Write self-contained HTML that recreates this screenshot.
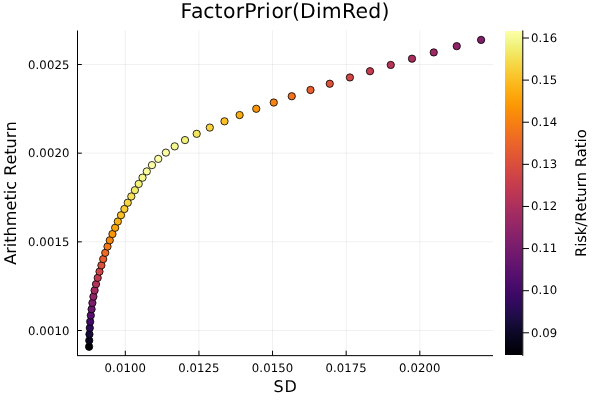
<!DOCTYPE html>
<html><head><meta charset="utf-8"><title>FactorPrior(DimRed)</title>
<style>html,body{margin:0;padding:0;background:#fff;}svg{display:block;will-change:transform;}text{font-family:'DejaVu Sans','Liberation Sans',sans-serif;fill:#000;font-kerning:none;text-rendering:geometricPrecision;}</style></head><body>
<svg width="600" height="400" viewBox="0 0 600 400">
<rect x="0" y="0" width="600" height="400" fill="#ffffff"/>
<g stroke="#000" stroke-opacity="0.1" stroke-width="0.6" fill="none">
<line x1="125.30" y1="30.50" x2="125.30" y2="355.50"/>
<line x1="198.93" y1="30.50" x2="198.93" y2="355.50"/>
<line x1="272.55" y1="30.50" x2="272.55" y2="355.50"/>
<line x1="346.18" y1="30.50" x2="346.18" y2="355.50"/>
<line x1="419.80" y1="30.50" x2="419.80" y2="355.50"/>
<line x1="77.50" y1="330.50" x2="493.00" y2="330.50"/>
<line x1="77.50" y1="241.83" x2="493.00" y2="241.83"/>
<line x1="77.50" y1="153.16" x2="493.00" y2="153.16"/>
<line x1="77.50" y1="64.49" x2="493.00" y2="64.49"/>
</g>
<g stroke="#000" stroke-width="1" fill="none">
<line x1="77.00" y1="355.65" x2="493.00" y2="355.65"/>
<line x1="77.50" y1="30.50" x2="77.50" y2="355.50"/>
<line x1="125.30" y1="355.65" x2="125.30" y2="350.70"/>
<line x1="198.93" y1="355.65" x2="198.93" y2="350.70"/>
<line x1="272.55" y1="355.65" x2="272.55" y2="350.70"/>
<line x1="346.18" y1="355.65" x2="346.18" y2="350.70"/>
<line x1="419.80" y1="355.65" x2="419.80" y2="350.70"/>
<line x1="77.50" y1="330.50" x2="81.80" y2="330.50"/>
<line x1="77.50" y1="241.83" x2="81.80" y2="241.83"/>
<line x1="77.50" y1="153.16" x2="81.80" y2="153.16"/>
<line x1="77.50" y1="64.49" x2="81.80" y2="64.49"/>
</g>
<g font-size="11.67" style="letter-spacing:0.1px">
<text x="125.30" y="371.6" text-anchor="middle">0.0100</text>
<text x="198.93" y="371.6" text-anchor="middle">0.0125</text>
<text x="272.55" y="371.6" text-anchor="middle">0.0150</text>
<text x="346.18" y="371.6" text-anchor="middle">0.0175</text>
<text x="419.80" y="371.6" text-anchor="middle">0.0200</text>
<text x="69.45" y="334.80" text-anchor="end">0.0010</text>
<text x="69.45" y="246.13" text-anchor="end">0.0015</text>
<text x="69.45" y="157.46" text-anchor="end">0.0020</text>
<text x="69.45" y="68.79" text-anchor="end">0.0025</text>
</g>
<text x="180.60 191.00 203.30 214.40 223.00 235.85 244.30 256.35 265.00 271.60 283.60 292.10 299.95 315.93 321.68 341.95 355.50 368.30 381.45" y="18" font-size="20.42">FactorPrior(DimRed)</text>
<text x="285.6" y="392" font-size="16.04" text-anchor="middle" style="letter-spacing:0.8px">SD</text>
<text transform="translate(15.8,193.1) rotate(-90)" font-size="16.12" text-anchor="middle">Arithmetic Return</text>
<g stroke="#000" stroke-width="0.8">
<circle cx="89.10" cy="346.75" r="3.65" fill="#000004"/>
<circle cx="89.25" cy="340.49" r="3.65" fill="#08051d"/>
<circle cx="89.45" cy="334.23" r="3.65" fill="#180c3c"/>
<circle cx="89.80" cy="327.96" r="3.65" fill="#2d0b59"/>
<circle cx="90.20" cy="321.70" r="3.65" fill="#420a68"/>
<circle cx="90.80" cy="315.44" r="3.65" fill="#57106e"/>
<circle cx="91.60" cy="309.18" r="3.65" fill="#6a176e"/>
<circle cx="92.40" cy="302.91" r="3.65" fill="#7d1e6d"/>
<circle cx="93.40" cy="296.65" r="3.65" fill="#902568"/>
<circle cx="94.60" cy="290.39" r="3.65" fill="#a22b62"/>
<circle cx="96.00" cy="284.13" r="3.65" fill="#b3325a"/>
<circle cx="97.70" cy="277.87" r="3.65" fill="#c13a50"/>
<circle cx="99.50" cy="271.60" r="3.65" fill="#cf4446"/>
<circle cx="101.40" cy="265.34" r="3.65" fill="#db503b"/>
<circle cx="103.20" cy="259.08" r="3.65" fill="#e65d2f"/>
<circle cx="105.25" cy="252.82" r="3.65" fill="#ee6a24"/>
<circle cx="107.50" cy="246.55" r="3.65" fill="#f47918"/>
<circle cx="109.75" cy="240.29" r="3.65" fill="#f8870e"/>
<circle cx="112.45" cy="234.03" r="3.65" fill="#fb9606"/>
<circle cx="115.15" cy="227.77" r="3.65" fill="#fca50a"/>
<circle cx="117.85" cy="221.51" r="3.65" fill="#fcb216"/>
<circle cx="121.00" cy="215.24" r="3.65" fill="#fac026"/>
<circle cx="124.40" cy="208.98" r="3.65" fill="#f9cb35"/>
<circle cx="127.75" cy="202.72" r="3.65" fill="#f6d543"/>
<circle cx="131.30" cy="196.46" r="3.65" fill="#f4e156"/>
<circle cx="134.90" cy="190.19" r="3.65" fill="#f2ea69"/>
<circle cx="138.70" cy="183.93" r="3.65" fill="#f2f27d"/>
<circle cx="142.50" cy="177.67" r="3.65" fill="#f4f88e"/>
<circle cx="146.80" cy="171.41" r="3.65" fill="#f9fc9d"/>
<circle cx="151.95" cy="165.14" r="3.65" fill="#fcffa4"/>
<circle cx="158.25" cy="158.88" r="3.65" fill="#fcffa4"/>
<circle cx="165.90" cy="152.62" r="3.65" fill="#fafda1"/>
<circle cx="174.70" cy="146.36" r="3.65" fill="#f5f992"/>
<circle cx="185.00" cy="140.10" r="3.65" fill="#f1f179"/>
<circle cx="196.70" cy="133.83" r="3.65" fill="#f3e55d"/>
<circle cx="209.80" cy="127.57" r="3.65" fill="#f7d340"/>
<circle cx="224.50" cy="121.31" r="3.65" fill="#fac026"/>
<circle cx="239.60" cy="115.05" r="3.65" fill="#fcac11"/>
<circle cx="256.25" cy="108.78" r="3.65" fill="#fb9706"/>
<circle cx="273.75" cy="102.52" r="3.65" fill="#f78410"/>
<circle cx="291.75" cy="96.26" r="3.65" fill="#f1711f"/>
<circle cx="310.50" cy="90.00" r="3.65" fill="#e8602d"/>
<circle cx="329.75" cy="83.74" r="3.65" fill="#de5238"/>
<circle cx="349.90" cy="77.47" r="3.65" fill="#d24644"/>
<circle cx="370.00" cy="71.21" r="3.65" fill="#c43c4e"/>
<circle cx="390.75" cy="64.95" r="3.65" fill="#b73557"/>
<circle cx="412.00" cy="58.69" r="3.65" fill="#a92e5e"/>
<circle cx="433.75" cy="52.42" r="3.65" fill="#9d2964"/>
<circle cx="456.75" cy="46.16" r="3.65" fill="#8f2469"/>
<circle cx="481.10" cy="39.90" r="3.65" fill="#801f6c"/>
</g>
<defs><linearGradient id="cb" x1="0" y1="0" x2="0" y2="1"><stop offset="0.0000" stop-color="#fcffa4"/><stop offset="0.0156" stop-color="#f8fb9a"/><stop offset="0.0312" stop-color="#f3f68a"/><stop offset="0.0469" stop-color="#f1f179"/><stop offset="0.0625" stop-color="#f2ea69"/><stop offset="0.0781" stop-color="#f3e35a"/><stop offset="0.0938" stop-color="#f5db4c"/><stop offset="0.1094" stop-color="#f7d340"/><stop offset="0.1250" stop-color="#f9cb35"/><stop offset="0.1406" stop-color="#fac42a"/><stop offset="0.1562" stop-color="#fbbc21"/><stop offset="0.1719" stop-color="#fcb418"/><stop offset="0.1875" stop-color="#fcac11"/><stop offset="0.2031" stop-color="#fca50a"/><stop offset="0.2188" stop-color="#fb9d07"/><stop offset="0.2344" stop-color="#fb9606"/><stop offset="0.2500" stop-color="#f98e09"/><stop offset="0.2656" stop-color="#f8870e"/><stop offset="0.2812" stop-color="#f68013"/><stop offset="0.2969" stop-color="#f47918"/><stop offset="0.3125" stop-color="#f1731d"/><stop offset="0.3281" stop-color="#ef6c23"/><stop offset="0.3438" stop-color="#eb6628"/><stop offset="0.3594" stop-color="#e8602d"/><stop offset="0.3750" stop-color="#e45a31"/><stop offset="0.3906" stop-color="#e05536"/><stop offset="0.4062" stop-color="#db503b"/><stop offset="0.4219" stop-color="#d74b3f"/><stop offset="0.4375" stop-color="#d24644"/><stop offset="0.4531" stop-color="#cc4248"/><stop offset="0.4688" stop-color="#c73e4c"/><stop offset="0.4844" stop-color="#c13a50"/><stop offset="0.5000" stop-color="#bc3754"/><stop offset="0.5156" stop-color="#b63458"/><stop offset="0.5312" stop-color="#b0315b"/><stop offset="0.5469" stop-color="#a92e5e"/><stop offset="0.5625" stop-color="#a32c61"/><stop offset="0.5781" stop-color="#9d2964"/><stop offset="0.5938" stop-color="#972766"/><stop offset="0.6094" stop-color="#902568"/><stop offset="0.6250" stop-color="#8a226a"/><stop offset="0.6406" stop-color="#84206b"/><stop offset="0.6562" stop-color="#7d1e6d"/><stop offset="0.6719" stop-color="#771c6d"/><stop offset="0.6875" stop-color="#71196e"/><stop offset="0.7031" stop-color="#6a176e"/><stop offset="0.7188" stop-color="#64156e"/><stop offset="0.7344" stop-color="#5d126e"/><stop offset="0.7500" stop-color="#57106e"/><stop offset="0.7656" stop-color="#510e6c"/><stop offset="0.7812" stop-color="#4a0c6b"/><stop offset="0.7969" stop-color="#440a68"/><stop offset="0.8125" stop-color="#3d0965"/><stop offset="0.8281" stop-color="#360961"/><stop offset="0.8438" stop-color="#2f0a5b"/><stop offset="0.8594" stop-color="#280b53"/><stop offset="0.8750" stop-color="#210c4a"/><stop offset="0.8906" stop-color="#1b0c41"/><stop offset="0.9062" stop-color="#150b37"/><stop offset="0.9219" stop-color="#10092d"/><stop offset="0.9375" stop-color="#0b0724"/><stop offset="0.9531" stop-color="#07051b"/><stop offset="0.9688" stop-color="#040312"/><stop offset="0.9844" stop-color="#02010a"/><stop offset="1.0000" stop-color="#000004"/></linearGradient></defs>
<rect x="505.00" y="31.00" width="17.50" height="324.00" fill="url(#cb)"/>
<g stroke="#000" stroke-width="1" fill="none">
<line x1="522.80" y1="30.40" x2="522.80" y2="355.90"/>
<line x1="522.50" y1="332.80" x2="529.00" y2="332.80"/>
<line x1="522.50" y1="290.69" x2="529.00" y2="290.69"/>
<line x1="522.50" y1="248.57" x2="529.00" y2="248.57"/>
<line x1="522.50" y1="206.46" x2="529.00" y2="206.46"/>
<line x1="522.50" y1="164.34" x2="529.00" y2="164.34"/>
<line x1="522.50" y1="122.23" x2="529.00" y2="122.23"/>
<line x1="522.50" y1="80.12" x2="529.00" y2="80.12"/>
<line x1="522.50" y1="38.00" x2="529.00" y2="38.00"/>
</g>
<g font-size="11.67" style="letter-spacing:0.1px">
<text x="530.9" y="337">0.09</text>
<text x="530.9" y="294">0.10</text>
<text x="530.9" y="252">0.11</text>
<text x="530.9" y="210">0.12</text>
<text x="530.9" y="168">0.13</text>
<text x="530.9" y="126">0.14</text>
<text x="530.9" y="84">0.15</text>
<text x="530.9" y="42">0.16</text>
</g>
<text transform="translate(585.9,193.2) rotate(-90)" font-size="14.69" text-anchor="middle">Risk/Return Ratio</text>
</svg></body></html>
